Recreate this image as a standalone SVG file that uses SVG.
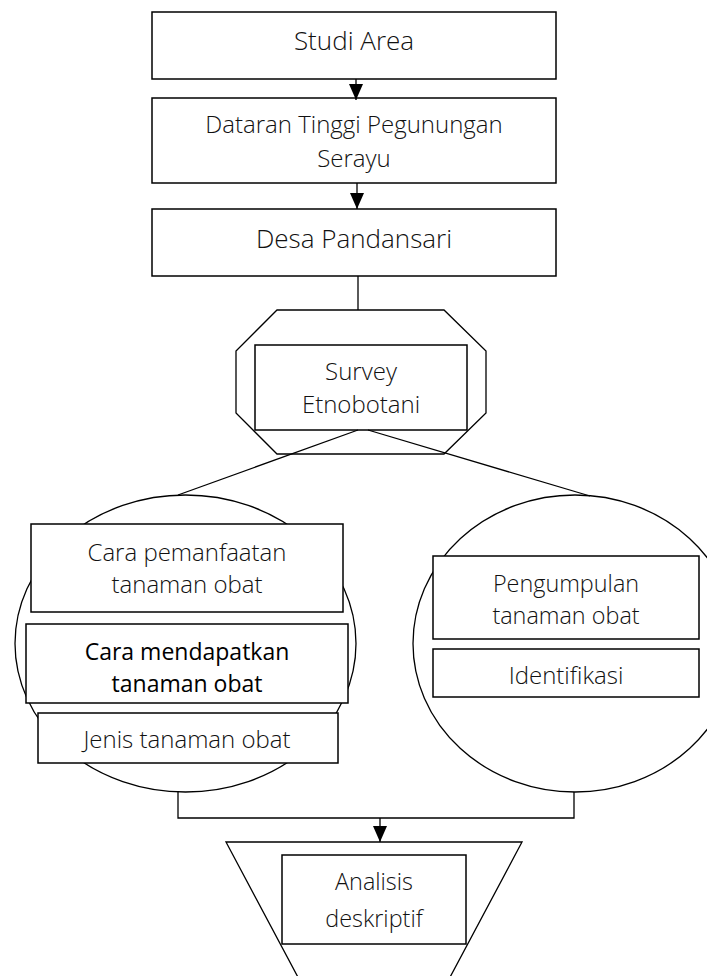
<svg xmlns="http://www.w3.org/2000/svg" width="707" height="976" viewBox="0 0 707 976">
<style>
.box{fill:#fff;stroke:#000;stroke-width:1.5}
.shape{fill:#fff;stroke:#000;stroke-width:1.3}
.ln{fill:none;stroke:#000;stroke-width:1.3}
.t{font-family:"Open Sans","Noto Sans",sans-serif;font-weight:300;fill:#111;text-anchor:middle;font-size:24px}
.t2{font-family:"Open Sans","Noto Sans",sans-serif;font-weight:400;fill:#000;text-anchor:middle;font-size:23px}
.big{font-size:26px}
.mid{font-size:23.4px}
</style>
<defs>
<marker id="ah" viewBox="0 0 16 14" refX="16" refY="7" markerWidth="16" markerHeight="14" markerUnits="userSpaceOnUse" orient="auto">
<path d="M0,0 L16,7 L0,14 Z" fill="#000"/>
</marker>
</defs>
<rect width="707" height="976" fill="#fff"/>
<g id="studi-area">
<rect class="box" x="152" y="12" width="404" height="67"/>
<text class="t big" x="354" y="50">Studi Area</text>
</g>
<g id="dataran-tinggi">
<rect class="box" x="152" y="98" width="404" height="85"/>
<text class="t" x="354" y="133">Dataran Tinggi Pegunungan</text>
<text class="t" x="354" y="167">Serayu</text>
</g>
<g id="desa-pandansari">
<rect class="box" x="152" y="209" width="404" height="67"/>
<text class="t big" x="354" y="248">Desa Pandansari</text>
</g>
<g id="survey">
<polygon class="shape" points="277,310 444,310 486,351 486,413 444,454 277,454 236,413 236,351"/>
<rect class="box" x="255" y="345" width="212" height="85"/>
<text class="t" x="361" y="380">Survey</text>
<text class="t" x="361" y="413">Etnobotani</text>
</g>
<g id="left-group">
<ellipse class="shape" cx="185.5" cy="643.5" rx="170.5" ry="148.5"/>
<g id="cara-pemanfaatan">
<rect class="box" x="31" y="524" width="312" height="88"/>
<text class="t" x="187" y="561">Cara pemanfaatan</text>
<text class="t" x="187" y="593">tanaman obat</text>
</g>
<g id="cara-mendapatkan">
<rect class="box" x="26" y="624" width="322" height="79" stroke-width="2"/>
<text class="t2" x="187" y="660">Cara mendapatkan</text>
<text class="t2" x="187" y="692">tanaman obat</text>
</g>
<g id="jenis-tanaman">
<rect class="box" x="38" y="713" width="300" height="50"/>
<text class="t" x="187" y="748">Jenis tanaman obat</text>
</g>
</g>
<g id="right-group">
<ellipse class="shape" cx="575" cy="643.5" rx="162" ry="148.5"/>
<g id="pengumpulan">
<rect class="box" x="433" y="556" width="266" height="83"/>
<text class="t mid" x="566" y="592">Pengumpulan</text>
<text class="t mid" x="566" y="624">tanaman obat</text>
</g>
<g id="identifikasi">
<rect class="box" x="433" y="649" width="266" height="48"/>
<text class="t" x="566" y="684">Identifikasi</text>
</g>
</g>
<g id="analisis">
<polygon class="shape" points="226,842 522,842 374,1120"/>
<rect class="box" x="282" y="855" width="184" height="89"/>
<text class="t mid" x="374" y="890">Analisis</text>
<text class="t mid" x="374" y="927">deskriptif</text>
</g>
<g id="connectors">
<line class="ln" x1="356" y1="79" x2="356" y2="100" marker-end="url(#ah)"/>
<line class="ln" x1="357" y1="183" x2="357" y2="209" marker-end="url(#ah)"/>
<line class="ln" x1="358" y1="276" x2="358" y2="310"/>
<line class="ln" x1="358" y1="430" x2="178" y2="495"/>
<line class="ln" x1="368" y1="430" x2="590" y2="496"/>
<polyline class="ln" points="178,792 178,818 574,818 574,792"/>
<line class="ln" x1="380" y1="818" x2="380" y2="842" marker-end="url(#ah)"/>
</g>
</svg>
